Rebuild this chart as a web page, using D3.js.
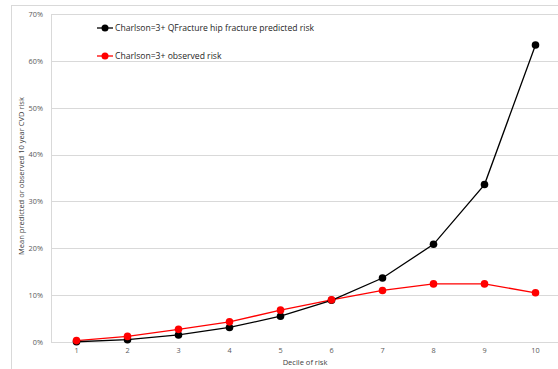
<!DOCTYPE html>
<html><head><meta charset="utf-8">
<script src="https://cdn.jsdelivr.net/npm/d3@7"></script>
<style>body{margin:0;background:#fff}svg{display:block}</style>
</head><body>
<svg id="c" width="558" height="369"></svg>
<script>
const deciles = ["1","2","3","4","5","6","7","8","9","10"];
const predicted = [0.0005,0.005,0.015,0.031,0.055,0.089,0.1365,0.2085,0.336,0.634];
const observed = [0.003,0.012,0.027,0.043,0.068,0.090,0.110,0.124,0.124,0.105];
const yTicks = [0,0.1,0.2,0.3,0.4,0.5,0.6,0.7];
const seriesNames = ["Charlson=3+ QFracture hip fracture predicted risk","Charlson=3+ observed risk"];
const seriesColors = ["#000000","#ff0000"];

const svg = d3.select("#c");
const font = "Open Sans, sans-serif";
svg.append("rect").attr("x",11.5).attr("y",5.5).attr("width",560).attr("height",380)
  .attr("fill","none").attr("stroke","#d9d9d9");

const x = d3.scaleBand().domain(deciles).range([51,561]);
const y = d3.scaleLinear().domain([0,0.7]).range([342,14]);

const g = svg.append("g");
yTicks.forEach(t=>{
  g.append("line").attr("x1",51).attr("x2",558).attr("y1",Math.round(y(t))+0.5).attr("y2",Math.round(y(t))+0.5)
   .attr("stroke","#d9d9d9").attr("stroke-width",1);
});
g.append("line").attr("x1",51.5).attr("x2",51.5).attr("y1",14).attr("y2",342).attr("stroke","#d9d9d9");

const yAxis = d3.axisLeft(y).tickValues(yTicks).tickFormat(d3.format(".0%")).tickSize(0).tickPadding(8);
const ya = svg.append("g").attr("transform","translate(51,0)").call(yAxis);
ya.select(".domain").remove();
ya.selectAll("text").attr("font-family",font).attr("font-size",7.3).attr("fill","#595959");

const xAxis = d3.axisBottom(x).tickSize(0).tickPadding(6);
const xa = svg.append("g").attr("transform","translate(0,342)").call(xAxis);
xa.select(".domain").remove();
xa.selectAll("text").attr("font-family",font).attr("font-size",7.3).attr("fill","#595959");

svg.append("text").attr("x",305).attr("y",365).attr("text-anchor","middle")
  .attr("font-family",font).attr("font-size",7.5).attr("fill","#404040").text("Decile of risk");
svg.append("text").attr("transform","translate(24,176) rotate(-90)").attr("text-anchor","middle")
  .attr("font-family",font).attr("font-size",7.5).attr("fill","#404040").text("Mean predicted or observed 10 year CVD risk");

const line = d3.line().x((d,i)=>x(deciles[i])+x.bandwidth()/2).y(d=>y(d));
[observed,predicted].forEach((s,k)=>{
  const col = k===0 ? seriesColors[1] : seriesColors[0];
  svg.append("path").attr("d",line(s)).attr("fill","none").attr("stroke",col).attr("stroke-width",1.3);
  svg.selectAll(null).data(s).enter().append("circle")
    .attr("cx",(d,i)=>x(deciles[i])+x.bandwidth()/2).attr("cy",d=>y(d)).attr("r",3.8).attr("fill",col);
});
svg.selectAll("circle").filter(function(){return d3.select(this).attr("fill")==="#ff0000";}).raise();

const legY = [28,56];
seriesNames.forEach((n,i)=>{
  svg.append("line").attr("x1",97).attr("x2",113).attr("y1",legY[i]).attr("y2",legY[i]).attr("stroke",seriesColors[i]).attr("stroke-width",1.3);
  svg.append("circle").attr("cx",105).attr("cy",legY[i]).attr("r",3.5).attr("fill",seriesColors[i]);
  svg.append("text").attr("x",115).attr("y",legY[i]+3).attr("font-family",font).attr("font-size",8.6)
    .attr("fill","#262626").text(n);
});
</script>
</body></html>
